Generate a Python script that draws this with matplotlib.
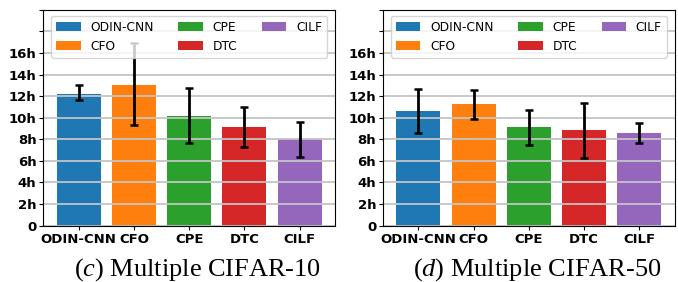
import matplotlib.pyplot as plt
import numpy as np

methods = ['ODIN-CNN', 'CFO', 'CPE', 'DTC', 'CILF']
colors = ['#1f77b4', '#ff7f0e', '#2ca02c', '#d62728', '#9467bd']

# Multiple CIFAR-10 (hours)
c10_mean = [12.2, 13.05, 10.2, 9.1, 8.0]
c10_low = [11.6, 9.3, 7.7, 7.25, 6.4]
c10_high = [13.05, 16.9, 12.75, 11.0, 9.65]

# Multiple CIFAR-50 (hours)
c50_mean = [10.6, 11.25, 9.1, 8.85, 8.6]
c50_low = [8.6, 9.85, 7.5, 6.3, 7.65]
c50_high = [12.65, 12.6, 10.75, 11.35, 9.55]

yticks = [0, 2, 4, 6, 8, 10, 12, 14, 16, 18, 20]
ylabels = ['0', '2h', '4h', '6h', '8h', '10h', '12h', '14h', '16h', '', '']

plt.rcParams['mathtext.fontset'] = 'custom'
plt.rcParams['mathtext.it'] = 'Liberation Serif:italic'
plt.rcParams['mathtext.rm'] = 'Liberation Serif'

fig = plt.figure(figsize=(6.78, 2.82), dpi=100)

panels = [
    (0.064, c10_mean, c10_low, c10_high, '($\\it{c}$) Multiple CIFAR-10'),
    (0.565, c50_mean, c50_low, c50_high, '($\\it{d}$) Multiple CIFAR-50'),
]

for left, mean, low, high, caption in panels:
    ax = fig.add_axes([left, 0.2, 0.43, 0.765])
    x = np.arange(len(methods))
    mean = np.array(mean)
    err = [mean - np.array(low), np.array(high) - mean]
    for i in range(len(methods)):
        ax.bar(x[i], mean[i], width=0.8, color=colors[i], label=methods[i],
               yerr=[[err[0][i]], [err[1][i]]], capsize=3,
               error_kw=dict(elinewidth=2, capthick=1.8, ecolor='black'))
    ax.set_ylim(0, 20)
    ax.set_yticks(yticks)
    ax.set_yticklabels(ylabels, fontsize=9.5, fontweight='bold')
    ax.set_xticks(x)
    ax.set_xticklabels(methods, fontsize=9.5, fontweight='bold')
    ax.tick_params(length=3, pad=2)
    ax.grid(axis='y', color='#c4c4c4', linewidth=1.3)
    ax.legend(loc='upper center', ncol=3, fontsize=8.8)
    cx = left + 0.43 / 2 + 0.012
    fig.text(cx, 0.021, caption, fontsize=19, family='Liberation Serif',
             ha='center', va='baseline')

fig.savefig('out.png', dpi=100)
